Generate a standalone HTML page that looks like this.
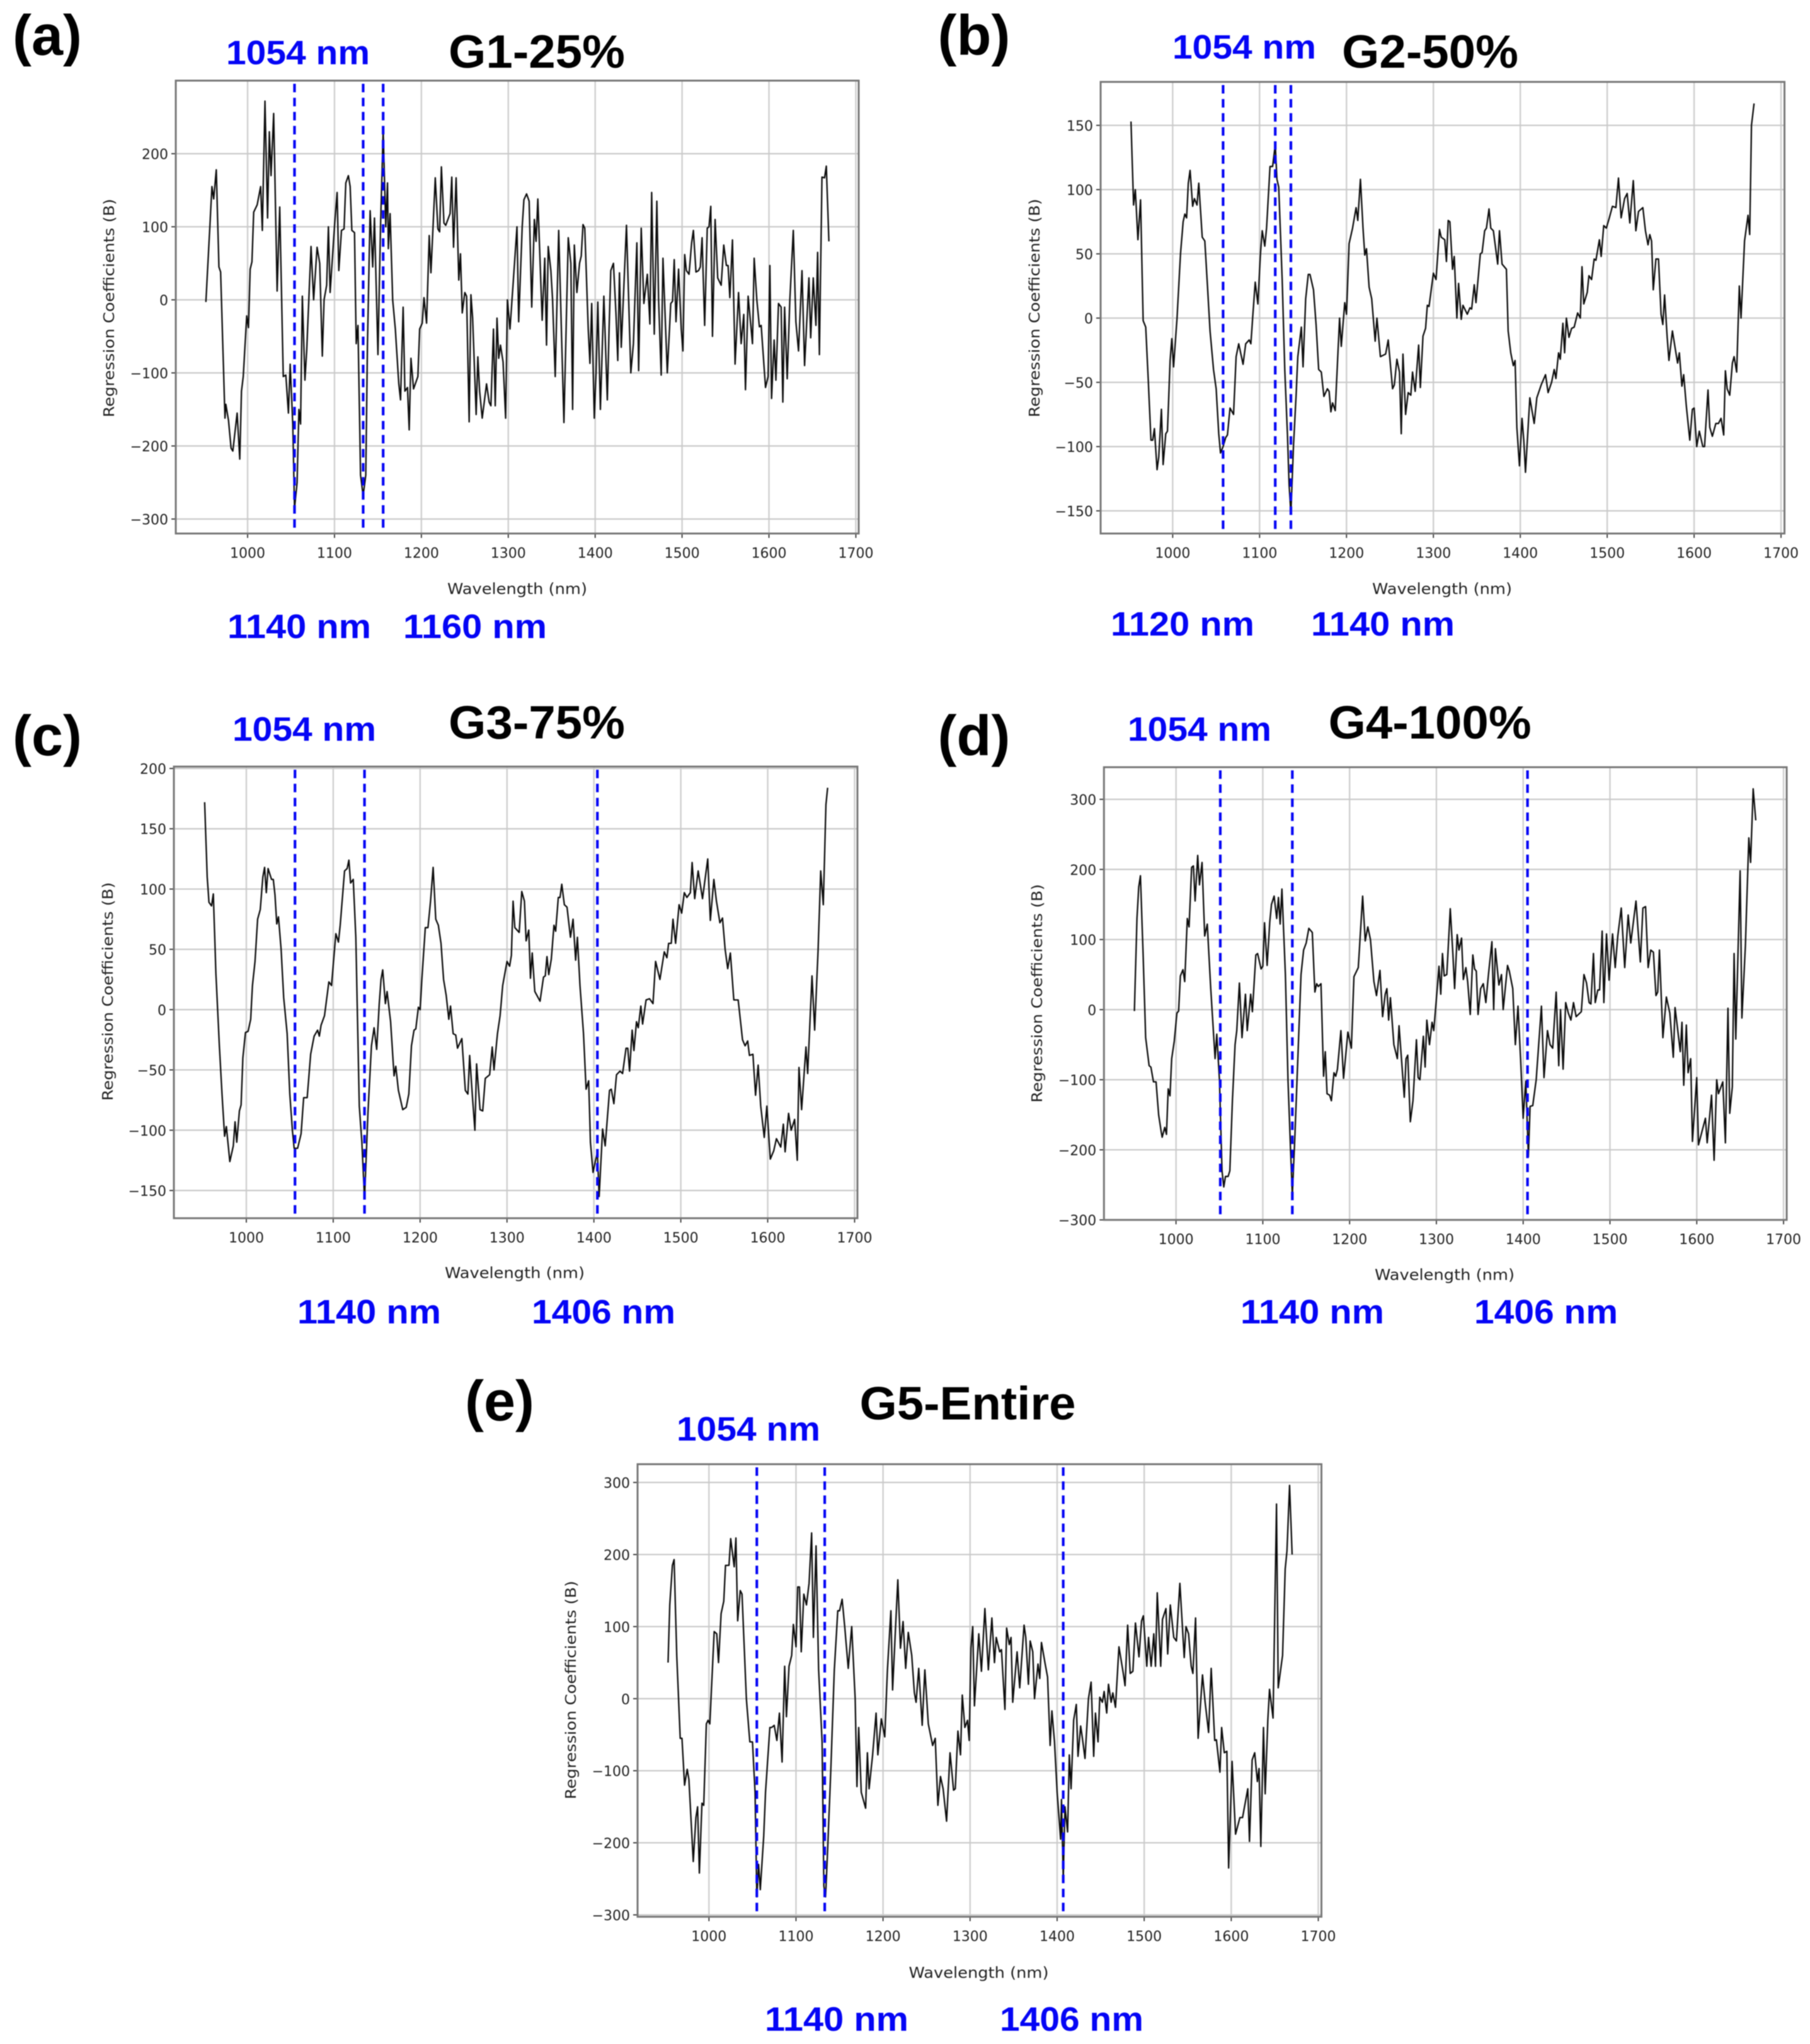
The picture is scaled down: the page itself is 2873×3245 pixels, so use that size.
<!DOCTYPE html>
<html lang="en">
<head>
<meta charset="utf-8">
<title>Regression coefficients by wavelength</title>
<style>
html,body{margin:0;padding:0;background:#fff;}
#figure{display:block;width:2873px;height:3245px;background:#fff;}
#root{filter:blur(0.7px);}
</style>
</head>
<body>
<svg id="figure" xmlns="http://www.w3.org/2000/svg" width="2873" height="3245" viewBox="0 0 2873 3245">
<g id="root"></g>
</svg>
<script>
const xTickValues = [1000,1100,1200,1300,1400,1500,1600,1700];
const aYTicks = [200,100,0,-100,-200,-300];
const bYTicks = [150,100,50,0,-50,-100,-150];
const cYTicks = [200,150,100,50,0,-50,-100,-150];
const dYTicks = [300,200,100,0,-100,-200,-300];
const eYTicks = [300,200,100,0,-100,-200,-300];

const aMarkers = [1054,1133,1156];
const bMarkers = [1058,1118,1136];
const cMarkers = [1056,1136,1404];
const dMarkers = [1051,1134,1405];
const eMarkers = [1055,1133,1407];

const aWavelengths = [952,957,959,961,964,967,969,974,975,978,981,983,988,991,993,995,999,1001,1003,1005,1007,1011,1015,1017,1020,1023,1025,1027,1030,1034,1037,1041,1044,1047,1049,1052,1054,1057,1059,1061,1063,1066,1068,1073,1076,1080,1083,1086,1088,1091,1093,1095,1100,1103,1105,1108,1111,1113,1116,1118,1120,1123,1125,1127,1130,1133,1136,1138,1141,1144,1146,1150,1153,1156,1159,1161,1162,1164,1167,1170,1174,1176,1179,1181,1184,1186,1188,1191,1196,1198,1201,1203,1206,1209,1211,1216,1219,1221,1223,1226,1228,1233,1235,1237,1240,1243,1245,1247,1250,1252,1255,1257,1259,1263,1265,1267,1270,1275,1278,1280,1283,1285,1287,1289,1291,1294,1297,1299,1302,1306,1310,1312,1316,1318,1321,1324,1327,1330,1332,1334,1339,1342,1344,1346,1349,1351,1354,1358,1364,1369,1372,1374,1376,1379,1382,1384,1386,1388,1392,1394,1396,1399,1401,1403,1406,1410,1414,1416,1418,1421,1424,1426,1428,1430,1436,1441,1444,1448,1450,1453,1456,1460,1463,1465,1468,1471,1473,1476,1478,1483,1487,1489,1491,1493,1496,1499,1501,1503,1505,1508,1511,1513,1516,1519,1521,1523,1526,1529,1531,1533,1535,1538,1541,1545,1548,1551,1553,1555,1558,1561,1565,1568,1571,1573,1576,1581,1583,1586,1589,1591,1596,1599,1601,1603,1606,1608,1611,1614,1616,1618,1621,1624,1628,1631,1634,1638,1641,1646,1648,1651,1654,1656,1658,1661,1664,1666,1669];
const aCoefficients = [-3,110,155,138,178,45,38,-162,-143,-165,-203,-207,-155,-218,-125,-105,-22,-38,42,52,120,130,155,95,272,112,230,170,255,12,127,-105,-103,-155,-88,-170,-285,-250,-150,-170,5,-110,-70,73,0,72,50,-77,0,20,100,10,100,147,40,95,97,160,170,155,95,92,-60,-35,-240,-268,-240,-60,122,45,112,-75,100,232,100,160,70,118,0,-40,-115,-137,-10,-125,-120,-178,-80,-122,-105,-40,-32,3,-32,88,37,167,97,93,182,105,102,118,168,72,167,27,63,-18,10,5,-167,7,-25,-157,-78,-125,-162,-115,-140,-145,-40,-145,-25,-80,-62,-85,-162,0,-40,30,100,-30,100,137,145,135,-10,110,80,138,-28,57,-62,73,40,0,-105,95,-168,85,50,-150,75,10,50,60,103,98,-40,-87,-5,-162,-100,-3,-150,5,-137,-40,40,50,-20,-83,37,-65,102,-100,-60,78,-97,98,-5,35,-33,147,-47,135,0,-103,57,-100,-5,-2,55,-30,42,-40,-70,62,40,35,78,95,38,40,45,85,-35,98,100,128,-50,110,30,20,75,47,47,3,82,-88,10,-60,-20,-123,5,-60,57,0,-37,-35,-120,-105,47,-135,-55,-110,-5,-10,-140,-10,-108,0,95,-30,-70,40,-90,30,-52,30,-35,65,-75,168,167,183,80];

const bWavelengths = [952,955,957,960,963,966,969,972,975,977,979,982,984,987,989,992,994,997,999,1001,1005,1009,1012,1014,1016,1018,1020,1023,1025,1028,1030,1034,1037,1040,1043,1047,1050,1053,1055,1058,1061,1063,1066,1070,1073,1076,1081,1084,1088,1090,1092,1095,1098,1101,1103,1106,1108,1112,1115,1118,1120,1122,1126,1129,1132,1134,1136,1139,1142,1144,1148,1150,1153,1156,1158,1162,1165,1168,1171,1174,1178,1180,1182,1184,1187,1192,1194,1198,1200,1203,1207,1211,1213,1216,1219,1221,1223,1226,1229,1233,1235,1239,1245,1248,1253,1255,1258,1261,1263,1265,1268,1271,1274,1276,1279,1283,1285,1288,1291,1293,1295,1300,1303,1307,1309,1313,1315,1317,1319,1322,1324,1327,1329,1332,1334,1339,1342,1344,1347,1349,1354,1356,1359,1361,1364,1366,1369,1374,1376,1379,1384,1386,1389,1392,1394,1396,1399,1402,1404,1406,1411,1416,1419,1424,1429,1432,1436,1439,1441,1444,1446,1449,1451,1453,1456,1459,1462,1466,1469,1471,1473,1477,1479,1482,1485,1487,1491,1493,1496,1499,1502,1506,1510,1513,1516,1520,1523,1526,1530,1533,1536,1541,1544,1547,1549,1551,1553,1556,1559,1562,1564,1566,1569,1571,1575,1581,1583,1586,1588,1591,1595,1598,1600,1603,1606,1610,1612,1616,1618,1621,1625,1628,1631,1634,1636,1638,1641,1644,1646,1649,1652,1654,1658,1662,1664,1666,1669];
const bCoefficients = [153,88,100,61,92,-2,-7,-50,-95,-95,-86,-118,-108,-71,-114,-90,-88,-33,-16,-38,0,50,75,81,78,105,115,87,93,88,105,63,60,25,-10,-40,-55,-90,-105,-100,-93,-91,-70,-75,-30,-20,-36,-20,-17,-20,0,28,11,50,68,56,70,118,118,135,108,102,30,-40,-90,-130,-152,-100,-60,-30,-7,-38,15,34,34,22,-5,-40,-42,-61,-55,-57,-73,-66,-72,0,-22,12,3,58,70,86,76,108,70,49,54,24,15,-18,0,-30,-28,-17,-55,-52,-32,-42,-90,-28,-75,-58,-60,-42,-57,-21,-54,-14,-8,10,9,35,30,69,63,61,44,76,75,38,48,0,27,-1,10,3,8,7,26,12,50,51,68,70,85,70,68,42,68,42,38,-10,-27,-37,-33,-85,-115,-78,-95,-120,-62,-82,-62,-52,-44,-58,-50,-40,-47,-27,-32,-4,-27,0,-15,-8,-7,4,0,40,11,20,33,30,46,45,61,48,72,70,77,87,86,109,78,93,97,74,107,68,83,86,68,57,65,60,22,46,46,3,-5,18,-15,-33,-10,-35,-27,-53,-44,-68,-95,-71,-70,-100,-88,-100,-100,-56,-85,-92,-82,-82,-78,-91,-41,-55,-60,-35,-30,-42,25,0,60,80,65,150,167];

const cWavelengths = [952,955,957,960,962,965,969,972,975,977,981,985,987,989,992,994,996,999,1002,1005,1007,1010,1013,1016,1019,1021,1023,1025,1029,1031,1033,1035,1037,1040,1043,1047,1050,1053,1055,1059,1063,1066,1070,1074,1078,1082,1084,1086,1090,1095,1098,1103,1106,1108,1113,1116,1118,1120,1123,1126,1130,1133,1136,1140,1144,1147,1150,1153,1155,1157,1160,1162,1166,1170,1172,1175,1180,1184,1187,1190,1193,1195,1198,1200,1202,1206,1209,1212,1215,1218,1221,1224,1227,1230,1233,1235,1238,1241,1243,1248,1252,1255,1257,1260,1263,1265,1269,1272,1275,1280,1283,1285,1289,1292,1295,1300,1303,1305,1307,1309,1314,1317,1320,1322,1325,1327,1329,1332,1338,1342,1344,1346,1348,1351,1354,1356,1359,1361,1363,1366,1369,1373,1376,1379,1381,1384,1388,1391,1394,1396,1399,1404,1406,1410,1413,1418,1420,1423,1426,1430,1433,1437,1439,1441,1444,1446,1449,1451,1454,1456,1460,1464,1468,1471,1476,1481,1484,1486,1489,1491,1494,1498,1501,1504,1507,1511,1513,1516,1520,1525,1531,1534,1538,1541,1545,1548,1551,1554,1557,1561,1566,1571,1574,1577,1579,1583,1586,1589,1592,1596,1599,1603,1607,1610,1615,1618,1620,1624,1627,1631,1634,1636,1639,1644,1646,1651,1654,1658,1661,1664,1667,1669];
const cCoefficients = [172,110,89,86,96,30,-30,-70,-105,-97,-126,-113,-93,-110,-84,-79,-40,-19,-18,-8,20,40,75,83,110,118,97,117,108,108,95,71,77,50,10,-20,-70,-100,-115,-115,-103,-73,-73,-37,-22,-17,-22,-13,-5,23,20,63,56,70,115,117,124,105,108,60,-80,-110,-157,-85,-30,-15,-33,5,25,33,5,15,-10,-55,-47,-67,-83,-81,-70,-30,-17,-16,2,0,25,68,68,90,118,75,70,55,25,12,-8,3,-20,-21,-32,-24,-67,-70,-38,-70,-100,-45,-83,-84,-57,-54,-31,-50,-20,-5,20,40,36,45,90,68,64,98,90,57,66,26,47,15,7,27,28,44,29,42,70,65,93,93,104,87,85,60,75,41,60,20,-20,-66,-59,-110,-135,-118,-155,-99,-113,-67,-66,-78,-54,-51,-53,-32,-32,-51,-17,-34,-10,-15,3,-12,8,9,5,40,25,48,43,55,55,75,55,87,80,97,93,97,122,92,115,92,125,74,108,90,72,76,50,34,47,8,8,-25,-30,-26,-38,-37,-71,-46,-80,-106,-80,-124,-117,-107,-114,-95,-118,-86,-100,-91,-125,-48,-83,-31,-53,28,-17,50,115,87,170,184];

const dWavelengths = [952,955,957,959,962,965,969,971,974,977,980,983,984,987,989,991,993,995,998,1001,1003,1005,1008,1010,1013,1015,1018,1020,1022,1025,1027,1030,1033,1036,1040,1045,1047,1050,1053,1055,1057,1060,1062,1065,1068,1070,1073,1076,1080,1082,1086,1088,1092,1094,1098,1100,1102,1105,1108,1110,1113,1116,1118,1120,1122,1126,1129,1132,1134,1137,1140,1144,1147,1150,1153,1157,1160,1162,1164,1167,1170,1172,1174,1177,1179,1182,1184,1186,1190,1193,1198,1202,1205,1210,1215,1218,1221,1224,1228,1231,1235,1238,1241,1243,1245,1247,1251,1255,1257,1263,1265,1267,1270,1273,1277,1279,1281,1285,1287,1289,1292,1295,1297,1301,1303,1305,1307,1309,1312,1316,1319,1321,1324,1326,1329,1331,1334,1336,1339,1342,1344,1346,1348,1351,1354,1357,1360,1364,1366,1368,1372,1375,1377,1382,1384,1388,1391,1394,1397,1400,1403,1406,1408,1411,1415,1421,1424,1428,1431,1434,1438,1441,1443,1446,1449,1452,1455,1458,1461,1467,1470,1473,1476,1478,1481,1483,1486,1488,1491,1493,1496,1499,1503,1506,1509,1513,1517,1521,1524,1530,1535,1538,1541,1544,1547,1550,1553,1555,1557,1561,1565,1569,1573,1575,1581,1583,1585,1588,1590,1593,1595,1600,1602,1610,1612,1615,1617,1620,1623,1625,1630,1633,1636,1638,1641,1643,1645,1650,1652,1656,1660,1662,1665,1668];
const dCoefficients = [-2,130,175,191,80,-40,-80,-82,-103,-103,-150,-175,-182,-168,-178,-113,-123,-70,-45,-5,-2,48,57,40,130,118,203,205,155,220,178,210,105,122,30,-70,-35,-100,-230,-253,-238,-238,-230,-130,-50,-30,38,-40,22,-30,22,-3,78,80,58,62,124,63,125,150,162,130,160,122,172,50,-100,-200,-265,-180,-80,50,85,95,116,110,25,37,33,37,-95,-60,-120,-122,-130,-90,-95,-85,-30,-98,-32,-55,47,60,162,98,118,100,40,20,56,-10,22,30,-15,17,-50,-70,-23,-125,-70,-65,-160,-130,-43,-97,-100,-38,-82,-15,-50,-18,-30,30,62,22,80,48,50,144,80,30,107,85,102,43,60,40,-7,78,58,55,-7,30,37,10,50,97,0,87,35,50,0,63,55,30,-50,5,-70,-155,-102,-210,-138,-137,-100,5,-97,-30,-50,-55,25,-80,0,-85,10,-5,-15,10,-10,-3,50,38,10,8,80,10,28,28,112,10,108,42,108,60,105,145,60,135,95,155,68,145,147,60,85,82,20,25,85,-40,18,-5,-68,3,-60,-18,-108,-22,-90,-70,-188,-97,-193,-155,-190,-150,-122,-215,-100,-120,-103,-190,2,-148,-110,80,-42,198,-12,90,245,210,315,270];

const eWavelengths = [953,955,958,960,963,967,969,972,975,977,982,985,987,989,992,994,997,999,1001,1006,1009,1011,1014,1017,1019,1023,1025,1029,1031,1033,1036,1038,1043,1047,1050,1053,1055,1057,1059,1063,1065,1070,1072,1075,1078,1081,1084,1087,1089,1092,1095,1097,1100,1102,1104,1106,1109,1112,1115,1118,1120,1123,1126,1130,1132,1134,1136,1140,1144,1148,1150,1153,1156,1160,1164,1168,1170,1172,1175,1180,1182,1184,1188,1192,1194,1198,1202,1205,1209,1211,1217,1220,1223,1226,1229,1233,1236,1238,1241,1245,1248,1252,1257,1260,1263,1266,1269,1273,1277,1281,1283,1286,1289,1291,1294,1297,1299,1301,1303,1305,1310,1313,1317,1321,1325,1328,1330,1334,1336,1340,1342,1345,1347,1349,1354,1357,1362,1364,1367,1369,1372,1374,1378,1380,1382,1386,1389,1392,1394,1397,1400,1404,1405,1407,1409,1412,1414,1416,1419,1422,1424,1427,1429,1432,1436,1439,1442,1444,1447,1449,1452,1454,1457,1459,1462,1464,1467,1471,1476,1478,1481,1484,1487,1490,1494,1497,1499,1503,1505,1508,1511,1513,1515,1519,1521,1525,1527,1530,1534,1537,1541,1546,1548,1551,1554,1556,1559,1562,1567,1570,1574,1577,1581,1583,1587,1589,1592,1595,1597,1601,1605,1610,1613,1619,1621,1624,1627,1630,1632,1634,1637,1639,1642,1644,1648,1652,1654,1659,1662,1664,1667,1670];
const eCoefficients = [50,130,185,193,60,-55,-55,-120,-98,-112,-226,-165,-150,-242,-145,-148,-35,-30,-35,93,90,50,118,135,185,185,222,183,223,108,150,145,0,-60,-60,-130,-275,-230,-265,-190,-130,-40,-40,-37,-58,-20,-88,45,-25,45,60,103,72,155,155,65,145,130,160,230,85,212,40,-60,-260,-275,-220,-100,40,122,122,138,100,42,100,0,-122,-40,-130,-152,-75,-125,-78,-20,-78,-28,-53,40,122,12,165,70,107,42,92,60,8,-5,42,-37,40,-35,-65,-55,-148,-108,-125,-170,-75,-127,-125,-45,-78,5,-40,-30,-58,70,100,-10,90,38,125,40,112,50,85,65,68,-15,98,75,85,-5,65,15,102,85,20,80,65,0,48,28,78,50,30,-65,-17,-60,-130,-195,-140,-250,-150,-185,-78,-125,-30,-8,-80,-38,-55,-83,0,23,-80,-20,-60,2,-5,10,-20,20,-5,8,-12,72,35,18,102,35,38,105,58,108,115,45,85,45,90,45,147,45,110,125,62,130,85,80,160,57,100,90,45,35,112,-55,33,-5,-47,42,-58,-57,-102,-40,-75,-73,-235,-87,-188,-165,-165,-125,-198,-85,-75,-115,-97,-205,-40,-132,-30,13,-27,270,15,60,180,205,296,200];

const panels = [
 {id:'a', left:279, right:1363, top:128, bottom:847, x0:393, x1:1358.5, yA:200, pA:244, yB:-300, pB:824, wavelengths:aWavelengths, values:aCoefficients, yTicks:aYTicks, markers:aMarkers,
  letter:'(a)', letterX:75, letterY:57, title:'G1-25%', titleX:852, titleY:82, titleW:280,
  notes:[['1054 nm',473,84],['1140 nm',475,995],['1160 nm',754,995]], xLabelX:821, xLabelY:935, yLabelX:174, yLabelY:489},
 {id:'b', left:1747, right:2832.5, top:130, bottom:847, x0:1861.4, x1:2827, yA:150, pA:199, yB:-150, pB:811, wavelengths:bWavelengths, values:bCoefficients, yTicks:bYTicks, markers:bMarkers,
  letter:'(b)', letterX:1546, letterY:57, title:'G2-50%', titleX:2270, titleY:82, titleW:280,
  notes:[['1054 nm',1975,75],['1120 nm',1877,991],['1140 nm',2195,991]], xLabelX:2289, xLabelY:935, yLabelX:1643, yLabelY:489},
 {id:'c', left:276, right:1361, top:1217, bottom:1934, x0:391, x1:1356.5, yA:200, pA:1220, yB:-150, pB:1890, wavelengths:cWavelengths, values:cCoefficients, yTicks:cYTicks, markers:cMarkers,
  letter:'(c)', letterX:75, letterY:1169, title:'G3-75%', titleX:852, titleY:1147, titleW:280,
  notes:[['1054 nm',483,1158],['1140 nm',586,2083],['1406 nm',958,2083]], xLabelX:817, xLabelY:2021, yLabelX:172, yLabelY:1574},
 {id:'d', left:1752.3, right:2836, top:1218, bottom:1936.7, x0:1866.7, x1:2831, yA:300, pA:1269, yB:-300, pB:1936.7, wavelengths:dWavelengths, values:dCoefficients, yTicks:dYTicks, markers:dMarkers,
  letter:'(d)', letterX:1546, letterY:1169, title:'G4-100%', titleX:2269.6, titleY:1147, titleW:322,
  notes:[['1054 nm',1904,1158],['1140 nm',2083,2083],['1406 nm',2454,2083]], xLabelX:2293, xLabelY:2024, yLabelX:1647, yLabelY:1577},
 {id:'e', left:1012, right:2097.5, top:2324.5, bottom:3043, x0:1125.3, x1:2092.5, yA:300, pA:2353.5, yB:-300, pB:3040, wavelengths:eWavelengths, values:eCoefficients, yTicks:eYTicks, markers:eMarkers,
  letter:'(e)', letterX:793, letterY:2225, title:'G5-Entire', titleX:1536, titleY:2228, titleW:343,
  notes:[['1054 nm',1188,2269],['1140 nm',1328,3206],['1406 nm',1701,3206]], xLabelX:1553.5, xLabelY:3132, yLabelX:907, yLabelY:2683}
];

const NS = 'http://www.w3.org/2000/svg';
const root = document.getElementById('root');
const SANS = '"Liberation Sans", sans-serif';
const MPL = '"DejaVu Sans", "Liberation Sans", sans-serif';

function make(tag, parent, props) {
  const el = document.createElementNS(NS, tag);
  for (const k in props) el.setAttribute(k, props[k]);
  parent.appendChild(el);
  return el;
}

function drawPanel(p) {
  const xScale = nm => p.x0 + (nm - 1000) * (p.x1 - p.x0) / 700;
  const yScale = v => p.pA + (p.yA - v) * (p.pB - p.pA) / (p.yA - p.yB);

  const g = make('g', root, {});
  
  

  const letter = make('text', g, {x:p.letterX, y:p.letterY, 'font-family':SANS, 'font-weight':'700', 'font-size':90, 'text-anchor':'middle', 'dominant-baseline':'central', fill:'#000'});
  letter.textContent = p.letter;
  
  

  const title = make('text', g, {x:p.titleX, y:p.titleY, 'font-family':SANS, 'font-weight':'700', 'font-size':74, 'text-anchor':'middle', 'dominant-baseline':'central', fill:'#000', textLength:p.titleW, lengthAdjust:'spacingAndGlyphs'});
  title.textContent = p.title;
  
  

  for (const n of p.notes) {
    const note = make('text', g, {x:n[1], y:n[2], 'font-family':SANS, 'font-weight':'700', 'font-size':54, 'text-anchor':'middle', 'dominant-baseline':'central', fill:'#0505f5', textLength:228, lengthAdjust:'spacingAndGlyphs'});
    note.textContent = n[0];
    
    
  }

  for (const t of xTickValues) {
    const gx = xScale(t);
    const grid = make('line', g, {x1:gx, x2:gx, y1:p.top, y2:p.bottom, stroke:'#cfcfcf', 'stroke-width':2.4});
    
    
    const tick = make('line', g, {x1:gx, x2:gx, y1:p.bottom, y2:p.bottom + 7, stroke:'#333', 'stroke-width':1.8});
    
    
    const lab = make('text', g, {x:gx, y:p.bottom + 32, 'font-family':MPL, 'font-size':22, 'text-anchor':'middle', 'dominant-baseline':'central', fill:'#222'});
    lab.textContent = String(t);
    
    
  }

  for (const t of p.yTicks) {
    const gy = yScale(t);
    const grid = make('line', g, {x1:p.left, x2:p.right, y1:gy, y2:gy, stroke:'#c9c9c9', 'stroke-width':2.2});
    
    
    const tick = make('line', g, {x1:p.left - 7, x2:p.left, y1:gy, y2:gy, stroke:'#333', 'stroke-width':1.8});
    
    
    const lab = make('text', g, {x:p.left - 12, y:gy + 2, 'font-family':MPL, 'font-size':22, 'text-anchor':'end', 'dominant-baseline':'central', fill:'#222'});
    lab.textContent = String(t).replace('-', '\u2212');
    
    
  }

  const count = Math.min(p.wavelengths.length, p.values.length);
  let d = '';
  for (let i = 0; i < count; i++) {
    d += (i ? 'L' : 'M') + xScale(p.wavelengths[i]).toFixed(1) + ' ' + yScale(p.values[i]).toFixed(1);
  }
  const series = make('path', g, {d:d, fill:'none', stroke:'#0b0b0b', 'stroke-width':2.3, 'stroke-linejoin':'round'});
  
  

  for (const m of p.markers) {
    const mx = xScale(m);
    const v = make('line', g, {x1:mx, x2:mx, y1:p.top + 5, y2:p.bottom - 6, stroke:'#0505f5', 'stroke-width':4.2, 'stroke-dasharray':'13.5 8.8'});
    
    
  }

  const frame = make('rect', g, {x:p.left, y:p.top, width:p.right - p.left, height:p.bottom - p.top, fill:'none', stroke:'#777', 'stroke-width':3});
  
  

  const xl = make('text', g, {x:p.xLabelX, y:p.xLabelY, 'font-family':MPL, 'font-size':24, 'text-anchor':'middle', 'dominant-baseline':'central', fill:'#222', textLength:222, lengthAdjust:'spacingAndGlyphs'});
  xl.textContent = 'Wavelength (nm)';
  
  

  const yl = make('text', g, {x:0, y:0, transform:'translate(' + p.yLabelX + ' ' + p.yLabelY + ') rotate(-90)', 'font-family':MPL, 'font-size':23, 'text-anchor':'middle', 'dominant-baseline':'central', fill:'#222', textLength:347, lengthAdjust:'spacingAndGlyphs'});
  yl.textContent = 'Regression Coefficients (B)';
  
  
}

panels.forEach(drawPanel);
</script>
</body>
</html>
